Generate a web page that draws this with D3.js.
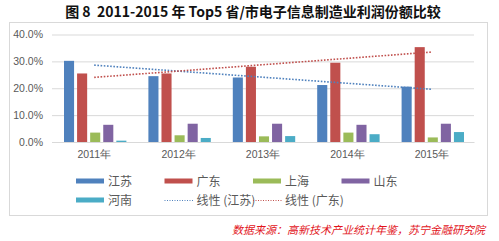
<!DOCTYPE html>
<html lang="zh">
<head>
<meta charset="utf-8">
<title>Top5 省/市电子信息制造业利润份额比较</title>
<script src="https://d3js.org/d3.v7.min.js"></script>
<style>
  body { margin: 0; background: #fff; }
  svg { font-family: "Noto Sans CJK SC", "Noto Sans", sans-serif; }
  .grid line { stroke: #d9d9d9; }
  .tick text { fill: #595959; font-size: 10.5px; }
</style>
</head>
<body>
<div id="chart"></div>
<script>
// data
var years = ["2011年", "2012年", "2013年", "2014年", "2015年"];
var regions = ["江苏", "广东", "上海", "山东", "河南"];
var jiangsu  = [30.2, 24.5, 24.0, 21.2, 20.6];
var guangdong = [25.5, 25.5, 28.0, 29.5, 35.3];
var shanghai = [3.5, 2.5, 2.1, 3.5, 1.7];
var shandong = [6.4, 6.8, 6.8, 6.4, 6.8];
var henan    = [0.5, 1.5, 2.2, 2.9, 3.7];
var yTicks = [0, 10, 20, 30, 40];
var colors = ["#4f81bd", "#c0504d", "#9bbb59", "#8064a2", "#4bacc6"];

var series = [jiangsu, guangdong, shanghai, shandong, henan];

var W = 499, H = 241;
var margin = {top: 34.5, right: 25, bottom: 99, left: 52};
var width = W - margin.left - margin.right,
    height = H - margin.top - margin.bottom;

var svg = d3.select("#chart").append("svg")
    .attr("width", W).attr("height", H);

// title
svg.append("text")
    .attr("x", 253).attr("y", 17)
    .attr("text-anchor", "middle")
    .style("font-size", "14px").style("font-weight", "bold")
    .style("white-space", "pre")
    .style("fill", "#111")
    .text("图 8  2011-2015 年 Top5 省/市电子信息制造业利润份额比较");

// frame
svg.append("rect")
    .attr("x", 9.5).attr("y", 22.5).attr("width", 478).attr("height", 193)
    .attr("fill", "none").attr("stroke", "#d9d9d9");

var g = svg.append("g")
    .attr("transform", "translate(" + margin.left + "," + margin.top + ")");

var x0 = d3.scaleBand().domain(years).range([0, width]);
var x1 = d3.scaleBand().domain(regions)
    .range([12, x0.bandwidth() - 10]).paddingInner(0.23);
var y = d3.scaleLinear().domain([0, 40]).range([height, 0]);

// grid + y axis
var yAxis = d3.axisLeft(y).tickValues(yTicks)
    .tickFormat(function(d) { return d.toFixed(1) + "%"; })
    .tickSize(-width).tickPadding(9);
g.append("g").attr("class", "grid").call(yAxis)
    .call(function(s) { s.select(".domain").remove(); });

// x axis labels
var xAxis = d3.axisBottom(x0).tickSize(0).tickPadding(9);
g.append("g").attr("transform", "translate(0," + height + ")")
    .call(xAxis)
    .call(function(s) { s.select(".domain").attr("stroke", "#d9d9d9"); });

// bars
var groups = g.selectAll(".yr").data(years).enter().append("g")
    .attr("transform", function(d) { return "translate(" + x0(d) + ",0)"; });
groups.selectAll("rect")
    .data(function(d, i) { return series.map(function(s, k) { return {r: regions[k], v: s[i], c: colors[k]}; }); })
    .enter().append("rect")
    .attr("x", function(d) { return x1(d.r); })
    .attr("width", x1.bandwidth())
    .attr("y", function(d) { return y(d.v); })
    .attr("height", function(d) { return height - y(d.v); })
    .attr("fill", function(d) { return d.c; });

// linear trend lines (least squares like Excel)
function trend(vals) {
  var n = vals.length, mx = (n - 1) / 2, my = d3.mean(vals), sxy = 0, sxx = 0;
  vals.forEach(function(v, i) { sxy += (i - mx) * (v - my); sxx += (i - mx) * (i - mx); });
  var b = sxy / sxx;
  return vals.map(function(v, i) { return my + b * (i - mx); });
}
var line = d3.line()
    .x(function(d, i) { return x0(years[i]) + x0.bandwidth() / 2; })
    .y(function(d) { return y(d); });
[[jiangsu, colors[0]], [guangdong, colors[1]]].forEach(function(p) {
  g.append("path").datum(trend(p[0]))
      .attr("d", line).attr("fill", "none")
      .attr("stroke", p[1]).attr("stroke-width", 1.6)
      .attr("stroke-dasharray", "1.6,1.6");
});

// legend
var legendItems = [
  {t: "江苏", c: colors[0], k: "bar"}, {t: "广东", c: colors[1], k: "bar"},
  {t: "上海", c: colors[2], k: "bar"}, {t: "山东", c: colors[3], k: "bar"},
  {t: "河南", c: colors[4], k: "bar"}, {t: "线性 (江苏)", c: colors[0], k: "dot"},
  {t: "线性 (广东)", c: colors[1], k: "dot"}
];
var leg = svg.selectAll(".leg").data(legendItems).enter().append("g")
    .attr("transform", function(d, i) {
      return "translate(" + (76 + (i % 4) * 88.5) + "," + (i < 4 ? 181 : 200) + ")";
    });
leg.each(function(d) {
  var s = d3.select(this);
  if (d.k === "bar") {
    s.append("rect").attr("x", 0).attr("y", -2.5).attr("width", 28).attr("height", 5).attr("fill", d.c);
  } else {
    s.append("line").attr("x1", 0).attr("x2", 30).attr("y1", 0.5).attr("y2", 0.5)
      .attr("stroke", d.c).attr("stroke-width", 1).attr("stroke-dasharray", "1,1.5");
  }
  s.append("text").attr("x", 32).attr("y", 4.5)
    .style("font-size", "12px").style("fill", "#595959").text(d.t);
});

// source
svg.append("text")
    .attr("x", 485).attr("y", 234).attr("text-anchor", "end")
    .style("font-size", "11px").style("font-style", "italic")
    .style("fill", "#e2141b")
    .text("数据来源：高新技术产业统计年鉴，苏宁金融研究院");
</script>
</body>
</html>
